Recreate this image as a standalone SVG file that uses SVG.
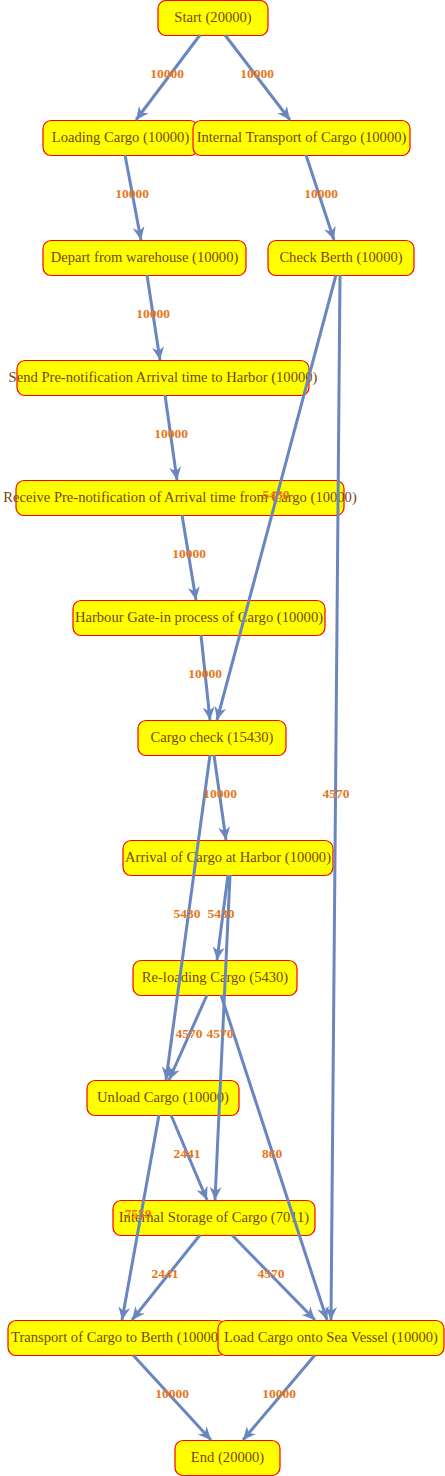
<svg xmlns="http://www.w3.org/2000/svg" width="445" height="1476" viewBox="0 0 445 1476">
<style>
.n rect{fill:#FFFF00;stroke:#FF0000;stroke-width:1.2}
.n text{font-family:"Liberation Serif",serif;font-size:14.6px;fill:#764606;text-anchor:middle}
.e line{stroke:#6A86BF;stroke-width:3;fill:none;marker-end:url(#ah)}
.l text{font-family:"Liberation Serif",serif;font-size:13.5px;font-weight:bold;fill:#E8761A;text-anchor:middle}
</style>
<defs>
<marker id="ah" markerUnits="userSpaceOnUse" markerWidth="14" markerHeight="14" viewBox="0 0 14 12" refX="13" refY="6" orient="auto">
<path d="M0,0 L13,6 L0,12 L4,6 z" fill="#6A86BF"/>
</marker>
</defs>
<g id="nodes">
<g id="start" class="n"><rect x="158" y="0.5" width="110" height="35" rx="8"/><text x="213" y="21.5">Start (20000)</text></g>
<g id="loading" class="n"><rect x="43" y="120.5" width="155" height="35" rx="8"/><text x="120.5" y="141.5">Loading Cargo (10000)</text></g>
<g id="internal" class="n"><rect x="193" y="120.5" width="217" height="35" rx="8"/><text x="301.5" y="141.5">Internal Transport of Cargo (10000)</text></g>
<g id="depart" class="n"><rect x="43" y="240.5" width="203" height="35" rx="8"/><text x="144.5" y="261.5">Depart from warehouse (10000)</text></g>
<g id="checkberth" class="n"><rect x="268" y="240.5" width="146" height="35" rx="8"/><text x="341" y="261.5">Check Berth (10000)</text></g>
<g id="send" class="n"><rect x="17" y="360.5" width="292" height="35" rx="8"/><text x="163" y="381.5">Send Pre-notification Arrival time to Harbor (10000)</text></g>
<g id="receive" class="n"><rect x="16" y="480.5" width="328" height="35" rx="8"/><text x="180" y="501.5">Receive Pre-notification of Arrival time from Cargo (10000)</text></g>
<g id="harbour" class="n"><rect x="73" y="600.5" width="252" height="35" rx="8"/><text x="199" y="621.5">Harbour Gate-in process of Cargo (10000)</text></g>
<g id="cargocheck" class="n"><rect x="138" y="720.5" width="148" height="35" rx="8"/><text x="212" y="741.5">Cargo check (15430)</text></g>
<g id="arrival" class="n"><rect x="123" y="840.5" width="210" height="35" rx="8"/><text x="228" y="861.5">Arrival of Cargo at Harbor (10000)</text></g>
<g id="reloading" class="n"><rect x="133" y="960.5" width="164" height="35" rx="8"/><text x="215" y="981.5">Re-loading Cargo (5430)</text></g>
<g id="unload" class="n"><rect x="87" y="1080.5" width="152" height="35" rx="8"/><text x="163" y="1101.5">Unload Cargo (10000)</text></g>
<g id="storage" class="n"><rect x="113" y="1200.5" width="202" height="35" rx="8"/><text x="214" y="1221.5">Internal Storage of Cargo (7011)</text></g>
<g id="transport" class="n"><rect x="8" y="1320.5" width="218" height="35" rx="8"/><text x="117" y="1341.5">Transport of Cargo to Berth (10000)</text></g>
<g id="loadvessel" class="n"><rect x="218" y="1320.5" width="226" height="35" rx="8"/><text x="331" y="1341.5">Load Cargo onto Sea Vessel (10000)</text></g>
<g id="end" class="n"><rect x="175" y="1440.5" width="105" height="35" rx="8"/><text x="227.5" y="1461.5">End (20000)</text></g>
</g>
<g id="connectors" class="e">
<line x1="200" y1="35" x2="136" y2="120"/>
<line x1="225" y1="35" x2="290" y2="120"/>
<line x1="125" y1="155" x2="141" y2="240"/>
<line x1="306" y1="155" x2="334" y2="240"/>
<line x1="147" y1="275" x2="160" y2="360"/>
<line x1="165" y1="395" x2="177" y2="480"/>
<line x1="182" y1="515" x2="196" y2="600"/>
<line x1="201" y1="635" x2="210" y2="720"/>
<line x1="336" y1="275" x2="217" y2="720"/>
<line x1="340" y1="275" x2="331" y2="1320"/>
<line x1="214" y1="755" x2="226" y2="840"/>
<line x1="210" y1="755" x2="166" y2="1080"/>
<line x1="228" y1="875" x2="217" y2="960"/>
<line x1="230" y1="875" x2="215" y2="1200"/>
<line x1="207" y1="995" x2="169" y2="1080"/>
<line x1="221" y1="995" x2="327" y2="1320"/>
<line x1="171" y1="1115" x2="207" y2="1200"/>
<line x1="159" y1="1115" x2="122" y2="1320"/>
<line x1="200" y1="1235" x2="132" y2="1320"/>
<line x1="232" y1="1235" x2="315" y2="1320"/>
<line x1="133" y1="1355" x2="211" y2="1440"/>
<line x1="315" y1="1355" x2="243" y2="1440"/>
</g>
<g id="labels" class="l">
<text x="167" y="78">10000</text>
<text x="257" y="78">10000</text>
<text x="132" y="198">10000</text>
<text x="321" y="198">10000</text>
<text x="153" y="318">10000</text>
<text x="171" y="438">10000</text>
<text x="189" y="558">10000</text>
<text x="205" y="678">10000</text>
<text x="276" y="499">5430</text>
<text x="336" y="798">4570</text>
<text x="220" y="798">10000</text>
<text x="187" y="918">5430</text>
<text x="221" y="918">5430</text>
<text x="189" y="1038">4570</text>
<text x="220" y="1038">4570</text>
<text x="187" y="1158">2441</text>
<text x="272" y="1158">860</text>
<text x="138" y="1218">7559</text>
<text x="165" y="1278">2441</text>
<text x="271" y="1278">4570</text>
<text x="172" y="1398">10000</text>
<text x="279" y="1398">10000</text>
</g>
</svg>
